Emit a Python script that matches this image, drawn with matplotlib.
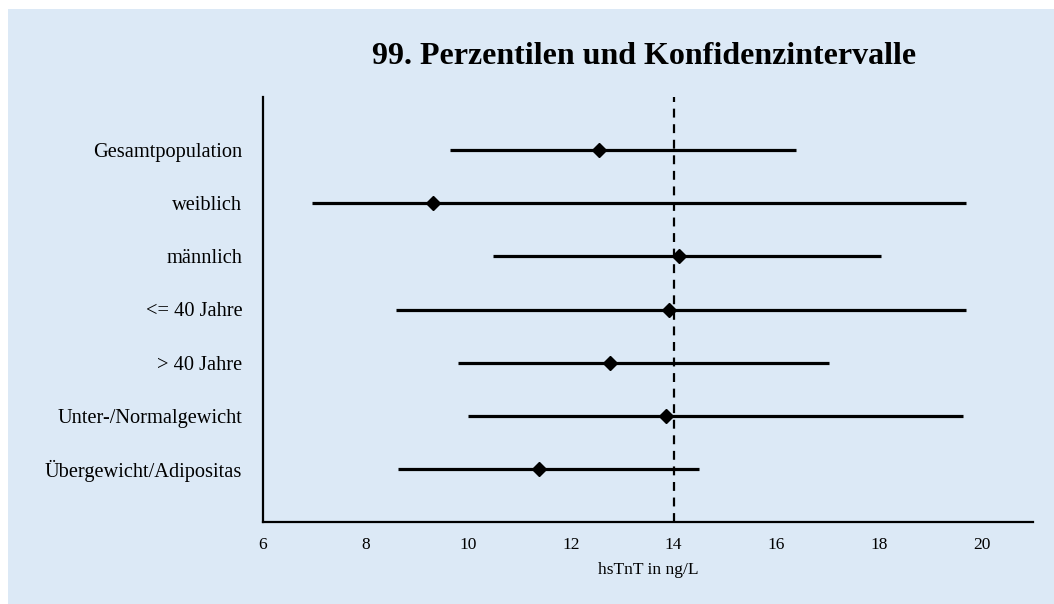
"""Forest-style plot of 99th percentiles with confidence intervals (hsTnT)."""

import matplotlib

matplotlib.use("Agg")
from matplotlib import pyplot as plt  # noqa: E402
from matplotlib.patches import Rectangle  # noqa: E402

groups = [
    "Gesamtpopulation",
    "weiblich",
    "männlich",
    "<= 40 Jahre",
    "> 40 Jahre",
    "Unter-/Normalgewicht",
    "Übergewicht/Adipositas",
]
percentile_99 = [12.54, 9.32, 14.10, 13.90, 12.75, 13.86, 11.37]
ci_lower = [9.65, 6.95, 10.49, 8.59, 9.79, 9.99, 8.63]
ci_upper = [16.38, 19.70, 18.03, 19.70, 17.03, 19.63, 14.50]
reference_value = 14
x_ticks = [6, 8, 10, 12, 14, 16, 18, 20]

BG = "#dce9f6"
SERIF = ["Liberation Serif", "DejaVu Serif"]

plt.rcParams["font.family"] = SERIF

fig = plt.figure(figsize=(10.54, 6.04), dpi=100, facecolor="white")
fig.patches.append(
    Rectangle((8 / 1054, -0.01), 1.0, 1.01 - 9 / 604,
              transform=fig.transFigure, facecolor=BG, edgecolor="none", zorder=-10)
)

ax = fig.add_axes([263 / 1054, 82 / 604, 770 / 1054, 425 / 604])
ax.set_facecolor("none")

n = len(groups)
ypos = list(range(n, 0, -1))

ax.axvline(reference_value, color="black", linewidth=1.6, linestyle=(0, (4, 3)), zorder=1)
ax.hlines(ypos, ci_lower, ci_upper, color="black", linewidth=2.3, zorder=2)
ax.plot(percentile_99, ypos, linestyle="none", marker="D", markersize=7,
        color="black", zorder=3)

ax.set_xlim(6, 21)
ax.set_ylim(0, n + 1)
ax.set_xticks(x_ticks)
ax.set_yticks(ypos)
ax.set_yticklabels(groups, fontsize=14.7)
ax.tick_params(axis="x", length=0, pad=11, labelsize=12.5)
ax.tick_params(axis="y", length=0, pad=15)
ax.set_xlabel("hsTnT in ng/L", fontsize=12.5, labelpad=6)

for side in ("top", "right"):
    ax.spines[side].set_visible(False)
for side in ("left", "bottom"):
    ax.spines[side].set_linewidth(1.6)

fig.text(644 / 1054, 1 - 57 / 604, "99. Perzentilen und Konfidenzintervalle",
         ha="center", va="center", fontsize=23, fontweight="bold")

fig.savefig("out.png", dpi=100)
